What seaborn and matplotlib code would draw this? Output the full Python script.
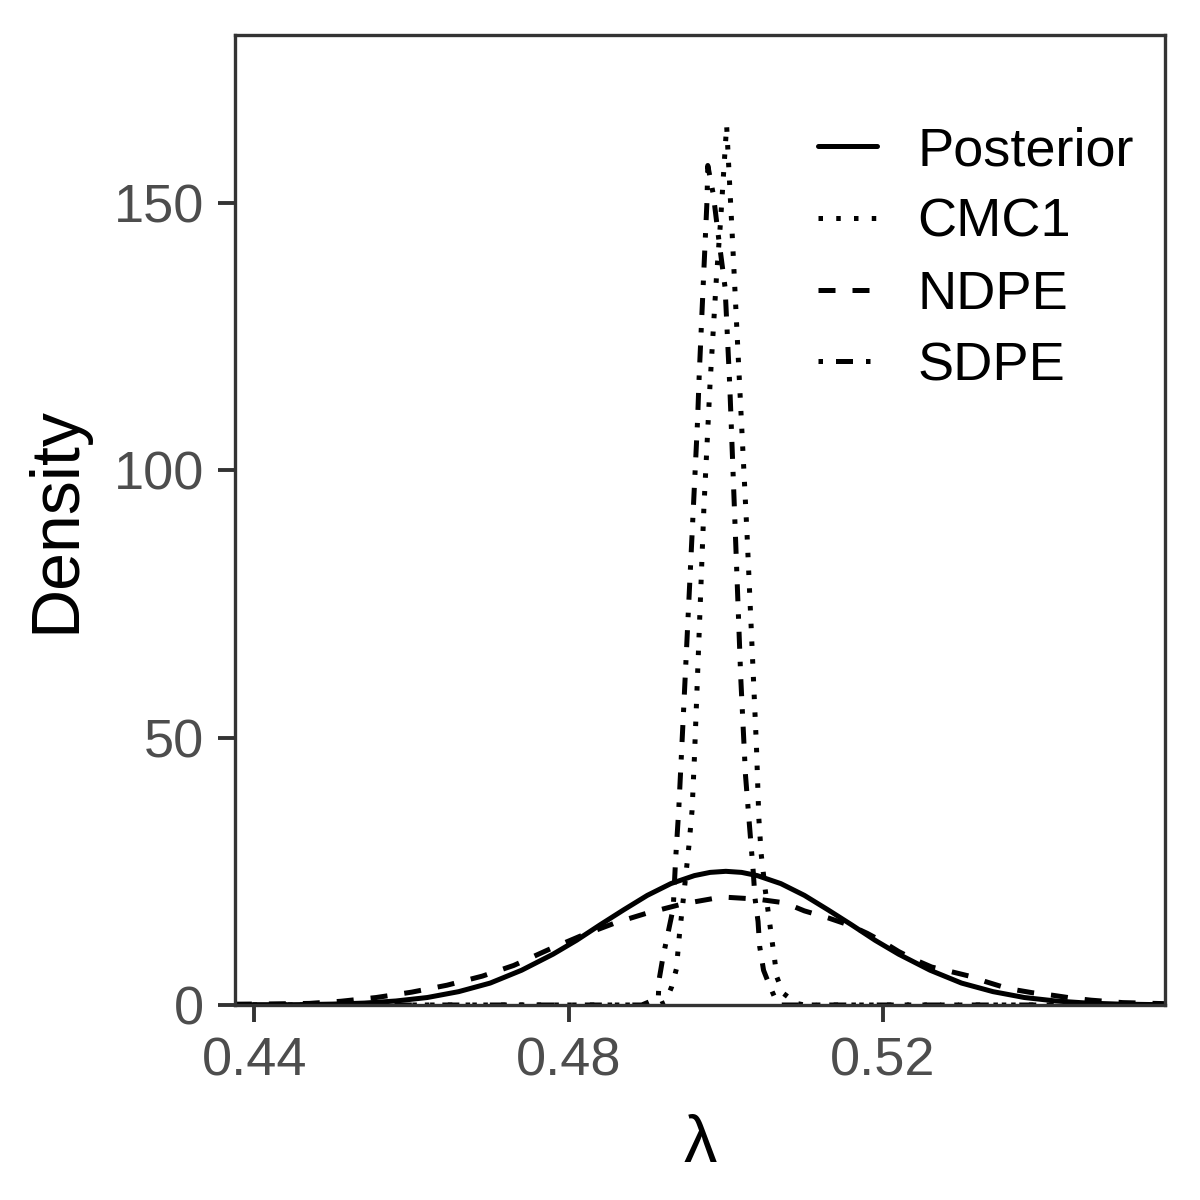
import numpy as np
import pandas as pd
import matplotlib
matplotlib.use("Agg")
import matplotlib.pyplot as plt
import seaborn as sns

# ---------------- data ----------------
methods = ["Posterior", "CMC1", "NDPE", "SDPE"]

post_x = [0.4375, 0.442, 0.446, 0.450, 0.454, 0.458, 0.462, 0.466, 0.470, 0.474,
          0.478, 0.481, 0.484, 0.487, 0.490, 0.493, 0.496, 0.498, 0.500, 0.502,
          0.504, 0.507, 0.510, 0.513, 0.516, 0.519, 0.522, 0.526, 0.530, 0.534,
          0.538, 0.542, 0.546, 0.550, 0.556]
post_y = [0.01, 0.03, 0.07, 0.17, 0.36, 0.75, 1.4, 2.5, 4.1, 6.5,
          9.5, 12.1, 15.0, 17.8, 20.5, 22.7, 24.2, 24.8, 25.0, 24.8,
          24.2, 22.7, 20.5, 17.8, 15.0, 12.1, 9.5, 6.5, 4.1, 2.5,
          1.4, 0.75, 0.36, 0.17, 0.05]

cmc1_x = [0.4375, 0.4915, 0.4923, 0.4931, 0.4937, 0.4941, 0.4946, 0.4953, 0.4957,
          0.4960, 0.4966, 0.4972, 0.4980, 0.4988, 0.4993, 0.5001, 0.5008, 0.5018,
          0.5027, 0.5033, 0.5039, 0.5042, 0.5045, 0.5050, 0.5056, 0.5059, 0.5062,
          0.5065, 0.5073, 0.5090, 0.5100, 0.556]
cmc1_y = [0.0, 0.0, 0.5, 3.4, 6.7, 13.3, 20.0, 29.8, 36.4,
          46.3, 69.5, 92.8, 116.5, 136.0, 146.0, 164.5, 144.4, 114.5,
          88.0, 68.1, 48.2, 34.9, 28.2, 21.7, 15.1, 11.8, 8.6,
          5.2, 2.2, 0.3, 0.0, 0.0]

ndpe_x = [0.4375, 0.442, 0.447, 0.451, 0.4555, 0.460, 0.4645, 0.469, 0.473, 0.4775,
          0.4815, 0.486, 0.490, 0.4945, 0.4995, 0.504, 0.5075, 0.510, 0.513, 0.5158,
          0.518, 0.520, 0.522, 0.524, 0.5262, 0.5285, 0.531, 0.533, 0.535, 0.537,
          0.539, 0.5417, 0.544, 0.5465, 0.5505, 0.556]
ndpe_y = [0.15, 0.2, 0.3, 0.7, 1.4, 2.4, 3.7, 5.4, 7.4, 10.4,
          12.9, 15.4, 17.2, 18.9, 20.2, 19.8, 19.1, 17.6, 16.3, 14.9,
          13.4, 11.8, 10.0, 8.5, 7.1, 6.3, 5.4, 4.4, 3.5, 2.8,
          2.3, 1.8, 1.3, 0.9, 0.45, 0.25]

sdpe_x = [0.4375, 0.4893, 0.4914, 0.4915, 0.4920, 0.4933, 0.4936, 0.4940, 0.4946,
          0.4955, 0.4964, 0.4966, 0.4969, 0.4976, 0.4977, 0.4984, 0.4991, 0.4999,
          0.5005, 0.5012, 0.5019, 0.5025, 0.5030, 0.5035, 0.5037, 0.5041, 0.5043,
          0.5048, 0.5052, 0.5059, 0.5065, 0.5070, 0.556]
sdpe_y = [0.0, 0.0, 1.3, 4.7, 9.0, 18.1, 27.1, 36.4, 54.5,
          81.9, 109.3, 117.4, 127.5, 150.4, 157.0, 151.6, 143.2, 134.2,
          115.8, 88.6, 61.1, 43.0, 33.7, 24.7, 20.1, 15.6, 11.0,
          6.5, 5.0, 2.5, 0.5, 0.0, 0.0]

x_ticks = [0.44, 0.48, 0.52]
x_tick_labels = ["0.44", "0.48", "0.52"]
y_ticks = [0, 50, 100, 150]

# ---------------- build long table ----------------
frames = []
for name, xs, ys in [("Posterior", post_x, post_y), ("CMC1", cmc1_x, cmc1_y),
                     ("NDPE", ndpe_x, ndpe_y), ("SDPE", sdpe_x, sdpe_y)]:
    frames.append(pd.DataFrame({"lam": xs, "dens": ys, "method": name}))
df = pd.concat(frames, ignore_index=True)

# ---------------- style ----------------
sns.set_theme(style="ticks")
plt.rcParams["font.family"] = ["Liberation Sans", "DejaVu Sans"]
plt.rcParams["text.color"] = "black"

fig = plt.figure(figsize=(6, 6), dpi=200)
ax = fig.add_axes([235 / 1200, 1 - 1005 / 1200, 930 / 1200, 970 / 1200])

lw = 1.8
dashes = {"Posterior": "", "CMC1": (0.9, 2.65), "NDPE": (3.4, 3.4),
          "SDPE": (0.9, 2.6, 3.4, 2.6)}
sns.lineplot(data=df, x="lam", y="dens", style="method", style_order=methods,
             dashes=dashes, color="black", linewidth=lw, estimator=None,
             sort=False, ax=ax)

ax.set_xlim(0.43752, 0.5559)
ax.set_ylim(0, 181.4)
ax.set_xticks(x_ticks)
ax.set_xticklabels(x_tick_labels)
ax.set_yticks(y_ticks)
ax.set_yticklabels([str(v) for v in y_ticks])

for s in ax.spines.values():
    s.set_visible(True)
    s.set_color("#333333")
    s.set_linewidth(1.2)

ax.tick_params(axis="both", which="major", length=6.2, width=1.4,
               color="#333333", labelcolor="#4D4D4D", labelsize=19.5, pad=5)

ax.set_xlabel("λ", fontsize=24, color="black", labelpad=10)
ax.set_ylabel("Density", fontsize=24.5, color="black", labelpad=9)
ax.grid(False)

# legend
handles, labels = ax.get_legend_handles_labels()
leg_h, leg_l = [], []
for h, l in zip(handles, labels):
    if l in methods:
        h.set_linewidth(lw)
        h.set_color("black")
        leg_h.append(h)
        leg_l.append(l)
if ax.get_legend() is not None:
    ax.get_legend().remove()
leg = ax.legend(leg_h, leg_l, loc="upper left", bbox_to_anchor=(0.627, 0.906),
                frameon=False, fontsize=19.5, handlelength=1.09, handletextpad=0.74,
                labelspacing=0.4, borderpad=0, borderaxespad=0)
for t in leg.get_texts():
    t.set_color("black")

fig.savefig("out.png", dpi=200)
